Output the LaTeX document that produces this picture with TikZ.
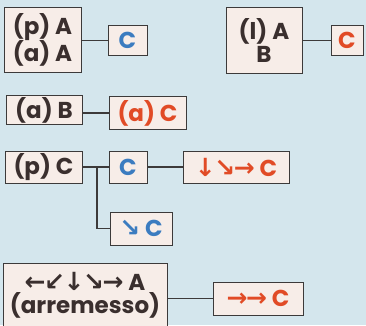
\documentclass[tikz,border=0pt]{standalone}
\usepackage{fontspec}
\setmainfont{Poppins}[BoldFont=* Bold]
\newfontfamily\arrowfont{DejaVu Sans}
\definecolor{bgblue}{HTML}{D4E6ED}
\definecolor{boxfill}{HTML}{F7EDE8}
\definecolor{boxline}{HTML}{3C3A3A}
\definecolor{txtdark}{HTML}{3A2F2E}
\definecolor{txtblue}{HTML}{3B7CC0}
\definecolor{txtred}{HTML}{E14B26}
\newcommand{\arr}[1]{{\arrowfont\bfseries\fontsize{25}{25}\selectfont #1}}
\newcommand{\ak}{\kern-1.5pt}
\begin{document}
\begin{tikzpicture}[x=1pt,y=-1pt,
  box/.style={draw=boxline, line width=1pt, fill=boxfill, inner sep=0pt,
    font=\fontsize{23}{24}\selectfont\bfseries, text=txtdark, align=center},
  blue/.style={text=txtblue},
  red/.style={text=txtred},
  link/.style={draw=boxline, line width=1.6pt}]
\fill[bgblue] (0,0) rectangle (366,325);
\useasboundingbox (0,0) rectangle (366,325);
% row 1
\node[box, minimum width=77pt, minimum height=65pt] (pa) at (42.5,39.5) {(p) A\\[-1pt](a) A};
\node[box, blue, minimum width=39pt, minimum height=30pt] (c1) at (127.5,40.5) {C};
\draw[link] (pa.east |- c1) -- (c1.west);
\node[box, minimum width=76pt, minimum height=66pt] (la) at (264,40) {(l) A\\[-1pt]B};
\node[box, red, minimum width=32pt, minimum height=30pt] (c2) at (347,40.5) {C};
\draw[link] (la.east |- c2) -- (c2.west);
% row 2
\node[box, minimum width=76pt, minimum height=29pt] (ab) at (44,110) {(a) B};
\node[box, red, minimum width=77pt, minimum height=33pt] (ac) at (147.5,113) {(a) C};
\draw[link] (ab.east |- ac) -- (ac.west);
% row 3
\node[box, minimum width=77pt, minimum height=32pt] (pc) at (43.5,167) {(p) C};
\node[box, blue, minimum width=38pt, minimum height=32pt] (c3) at (128,167) {C};
\node[box, red, minimum width=106pt, minimum height=32pt] (r3) at (236,167) {\arr{↓\ak↘\ak→} C};
\node[box, blue, minimum width=62pt, minimum height=33pt] (dc) at (141,228.5) {\arr{↘} C};
\coordinate (br) at (97,167);
\draw[link] (pc.east) -- (c3.west);
\draw[link] (c3.east) -- (r3.west);
\draw[link] (br) |- (dc.west);
% row 4
\node[box, minimum width=164pt, minimum height=64pt] (th) at (85,295) {\arr{←\ak↙\ak↓\ak↘\ak→} A\\[-1pt](arremesso)};
\node[box, red, minimum width=90pt, minimum height=33pt] (rr) at (258,298.5) {\arr{→\ak→} C};
\draw[link] (th.east |- rr) -- (rr.west);
\end{tikzpicture}
\end{document}
